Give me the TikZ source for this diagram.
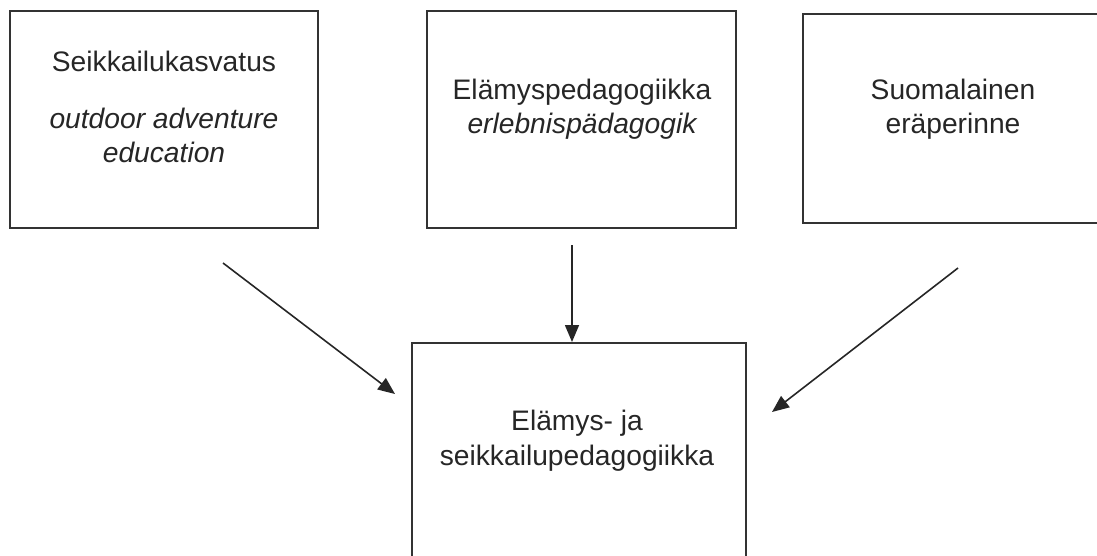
\documentclass[tikz,border=0pt]{standalone}
\usepackage{fontspec}
\setmainfont{Liberation Sans}
\usetikzlibrary{arrows.meta}
\begin{document}
\begin{tikzpicture}[x=1pt,y=-1pt,
  box/.style={draw=black!80,line width=1.6pt,minimum width=#1,inner sep=0pt},
  lbl/.style={anchor=base,inner sep=0pt,text=black!85,font=\fontsize{28.2}{34}\selectfont},
  ilbl/.style={lbl,font=\fontsize{28.2}{34}\selectfont\itshape},
  arr/.style={draw=black!85,line width=1.6pt,-{Triangle[length=17pt,width=14pt]}}]
\useasboundingbox (0,0) rectangle (1097,555);
\clip (0,0) rectangle (1097,555);
% boxes
\node[box=308pt,minimum height=217pt] (b1) at (164,119.5) {};
\node[box=309pt,minimum height=217pt] (b2) at (581.5,119.5) {};
\node[box=302pt,minimum height=209pt] (b3) at (954,118.5) {};
\node[box=334pt,minimum height=222pt] (b4) at (579,454) {};
% texts
\node[lbl]  (t1a) at (164,71)  {Seikkailukasvatus};
\node[ilbl] (t1b) at (164,128) {outdoor adventure};
\node[ilbl] (t1c) at (164,162) {education};
\node[lbl]  (t2a) at (582,99)  {Elämyspedagogiikka};
\node[ilbl] (t2b) at (582,133) {erlebnispädagogik};
\node[lbl]  (t3a) at (953,99)  {Suomalainen};
\node[lbl]  (t3b) at (953,133) {eräperinne};
\node[lbl]  (t4a) at (577,430) {Elämys- ja};
\node[lbl]  (t4b) at (577,465) {seikkailupedagogiikka};
% arrow end points
\coordinate (a1s) at (223,263);
\coordinate (a1e) at (395,394);
\coordinate (a2s) at (572,245);
\coordinate (a2e) at (572,342);
\coordinate (a3s) at (958,268);
\coordinate (a3e) at (772,412);
\draw[arr] (a1s) -- (a1e);
\draw[arr] (a2s) -- (a2e);
\draw[arr] (a3s) -- (a3e);
\end{tikzpicture}
\end{document}
